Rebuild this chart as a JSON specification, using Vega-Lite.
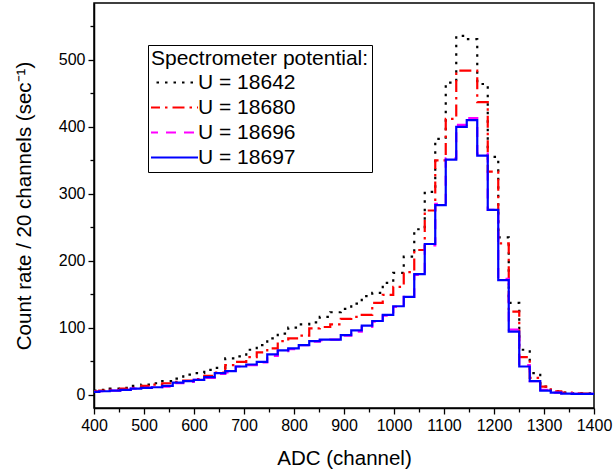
{
  "$schema": "https://vega.github.io/schema/vega-lite/v6.json",
  "width": 500,
  "height": 405,
  "autosize": {"type": "none"},
  "padding": {"left": 94, "top": 3, "right": 21, "bottom": 64},
  "background": "white",
  "config": {
    "font": "Liberation Sans",
    "view": {"stroke": "black", "strokeWidth": 1.5},
    "axis": {"domainColor": "black", "domainWidth": 1.5, "tickColor": "black", "tickWidth": 1.3, "labelColor": "black", "titleColor": "black", "grid": false, "labelFont": "Liberation Sans", "titleFont": "Liberation Sans", "titleFontWeight": "normal"}
  },
  "data": {"values": [
    {"s":"U = 18642","x":400,"y":6},{"s":"U = 18642","x":421,"y":7},{"s":"U = 18642","x":442,"y":9},{"s":"U = 18642","x":463,"y":10},{"s":"U = 18642","x":484,"y":13},{"s":"U = 18642","x":505,"y":15},{"s":"U = 18642","x":526,"y":17},{"s":"U = 18642","x":547,"y":20},{"s":"U = 18642","x":568,"y":24},{"s":"U = 18642","x":589,"y":30},{"s":"U = 18642","x":610,"y":32},{"s":"U = 18642","x":631,"y":37},{"s":"U = 18642","x":652,"y":40},{"s":"U = 18642","x":673,"y":54},{"s":"U = 18642","x":694,"y":57},{"s":"U = 18642","x":715,"y":67},{"s":"U = 18642","x":736,"y":74},{"s":"U = 18642","x":757,"y":84},{"s":"U = 18642","x":778,"y":91},{"s":"U = 18642","x":799,"y":100},{"s":"U = 18642","x":820,"y":105},{"s":"U = 18642","x":841,"y":108},{"s":"U = 18642","x":862,"y":116},{"s":"U = 18642","x":883,"y":123},{"s":"U = 18642","x":904,"y":128},{"s":"U = 18642","x":925,"y":136},{"s":"U = 18642","x":946,"y":147},{"s":"U = 18642","x":967,"y":152},{"s":"U = 18642","x":988,"y":167},{"s":"U = 18642","x":1009,"y":182},{"s":"U = 18642","x":1030,"y":206},{"s":"U = 18642","x":1051,"y":247},{"s":"U = 18642","x":1072,"y":303},{"s":"U = 18642","x":1093,"y":382},{"s":"U = 18642","x":1114,"y":466},{"s":"U = 18642","x":1135,"y":536},{"s":"U = 18642","x":1156,"y":531},{"s":"U = 18642","x":1177,"y":464},{"s":"U = 18642","x":1198,"y":355},{"s":"U = 18642","x":1219,"y":235},{"s":"U = 18642","x":1240,"y":137},{"s":"U = 18642","x":1261,"y":67},{"s":"U = 18642","x":1282,"y":32},{"s":"U = 18642","x":1303,"y":12},{"s":"U = 18642","x":1324,"y":5},{"s":"U = 18642","x":1345,"y":3},{"s":"U = 18642","x":1366,"y":2},{"s":"U = 18642","x":1387,"y":2},{"s":"U = 18642","x":1408,"y":1},
    {"s":"U = 18680","x":400,"y":5},{"s":"U = 18680","x":421,"y":6},{"s":"U = 18680","x":442,"y":7},{"s":"U = 18680","x":463,"y":9},{"s":"U = 18680","x":484,"y":10},{"s":"U = 18680","x":505,"y":13},{"s":"U = 18680","x":526,"y":15},{"s":"U = 18680","x":547,"y":17},{"s":"U = 18680","x":568,"y":19},{"s":"U = 18680","x":589,"y":21},{"s":"U = 18680","x":610,"y":23},{"s":"U = 18680","x":631,"y":28},{"s":"U = 18680","x":652,"y":33},{"s":"U = 18680","x":673,"y":44},{"s":"U = 18680","x":694,"y":49},{"s":"U = 18680","x":715,"y":56},{"s":"U = 18680","x":736,"y":63},{"s":"U = 18680","x":757,"y":69},{"s":"U = 18680","x":778,"y":80},{"s":"U = 18680","x":799,"y":84},{"s":"U = 18680","x":820,"y":88},{"s":"U = 18680","x":841,"y":99},{"s":"U = 18680","x":862,"y":101},{"s":"U = 18680","x":883,"y":105},{"s":"U = 18680","x":904,"y":113},{"s":"U = 18680","x":925,"y":116},{"s":"U = 18680","x":946,"y":119},{"s":"U = 18680","x":967,"y":137},{"s":"U = 18680","x":988,"y":149},{"s":"U = 18680","x":1009,"y":161},{"s":"U = 18680","x":1030,"y":183},{"s":"U = 18680","x":1051,"y":216},{"s":"U = 18680","x":1072,"y":275},{"s":"U = 18680","x":1093,"y":350},{"s":"U = 18680","x":1114,"y":412},{"s":"U = 18680","x":1135,"y":484},{"s":"U = 18680","x":1156,"y":484},{"s":"U = 18680","x":1177,"y":437},{"s":"U = 18680","x":1198,"y":333},{"s":"U = 18680","x":1219,"y":226},{"s":"U = 18680","x":1240,"y":124},{"s":"U = 18680","x":1261,"y":56},{"s":"U = 18680","x":1282,"y":25},{"s":"U = 18680","x":1303,"y":12},{"s":"U = 18680","x":1324,"y":5},{"s":"U = 18680","x":1345,"y":3},{"s":"U = 18680","x":1366,"y":2},{"s":"U = 18680","x":1387,"y":1.5},{"s":"U = 18680","x":1408,"y":1},
    {"s":"U = 18696","x":400,"y":4},{"s":"U = 18696","x":421,"y":5},{"s":"U = 18696","x":442,"y":6},{"s":"U = 18696","x":463,"y":7},{"s":"U = 18696","x":484,"y":9},{"s":"U = 18696","x":505,"y":10},{"s":"U = 18696","x":526,"y":11},{"s":"U = 18696","x":547,"y":12},{"s":"U = 18696","x":568,"y":17},{"s":"U = 18696","x":589,"y":19},{"s":"U = 18696","x":610,"y":22},{"s":"U = 18696","x":631,"y":25},{"s":"U = 18696","x":652,"y":31},{"s":"U = 18696","x":673,"y":33},{"s":"U = 18696","x":694,"y":42},{"s":"U = 18696","x":715,"y":44},{"s":"U = 18696","x":736,"y":48},{"s":"U = 18696","x":757,"y":58},{"s":"U = 18696","x":778,"y":65},{"s":"U = 18696","x":799,"y":68},{"s":"U = 18696","x":820,"y":74},{"s":"U = 18696","x":841,"y":79},{"s":"U = 18696","x":862,"y":81},{"s":"U = 18696","x":883,"y":82},{"s":"U = 18696","x":904,"y":88},{"s":"U = 18696","x":925,"y":94},{"s":"U = 18696","x":946,"y":101},{"s":"U = 18696","x":967,"y":109},{"s":"U = 18696","x":988,"y":118},{"s":"U = 18696","x":1009,"y":131},{"s":"U = 18696","x":1030,"y":146},{"s":"U = 18696","x":1051,"y":179},{"s":"U = 18696","x":1072,"y":223},{"s":"U = 18696","x":1093,"y":285},{"s":"U = 18696","x":1114,"y":353},{"s":"U = 18696","x":1135,"y":403},{"s":"U = 18696","x":1156,"y":413},{"s":"U = 18696","x":1177,"y":360},{"s":"U = 18696","x":1198,"y":276},{"s":"U = 18696","x":1219,"y":173},{"s":"U = 18696","x":1240,"y":97},{"s":"U = 18696","x":1261,"y":44},{"s":"U = 18696","x":1282,"y":20},{"s":"U = 18696","x":1303,"y":7},{"s":"U = 18696","x":1324,"y":3},{"s":"U = 18696","x":1345,"y":2},{"s":"U = 18696","x":1366,"y":1},{"s":"U = 18696","x":1387,"y":1},{"s":"U = 18696","x":1408,"y":1},
    {"s":"U = 18697","x":400,"y":4},{"s":"U = 18697","x":421,"y":5},{"s":"U = 18697","x":442,"y":6},{"s":"U = 18697","x":463,"y":7},{"s":"U = 18697","x":484,"y":9},{"s":"U = 18697","x":505,"y":10},{"s":"U = 18697","x":526,"y":11},{"s":"U = 18697","x":547,"y":13},{"s":"U = 18697","x":568,"y":18},{"s":"U = 18697","x":589,"y":20},{"s":"U = 18697","x":610,"y":22},{"s":"U = 18697","x":631,"y":26},{"s":"U = 18697","x":652,"y":32},{"s":"U = 18697","x":673,"y":35},{"s":"U = 18697","x":694,"y":42},{"s":"U = 18697","x":715,"y":45},{"s":"U = 18697","x":736,"y":49},{"s":"U = 18697","x":757,"y":60},{"s":"U = 18697","x":778,"y":66},{"s":"U = 18697","x":799,"y":69},{"s":"U = 18697","x":820,"y":74},{"s":"U = 18697","x":841,"y":80},{"s":"U = 18697","x":862,"y":82},{"s":"U = 18697","x":883,"y":82},{"s":"U = 18697","x":904,"y":89},{"s":"U = 18697","x":925,"y":96},{"s":"U = 18697","x":946,"y":103},{"s":"U = 18697","x":967,"y":110},{"s":"U = 18697","x":988,"y":119},{"s":"U = 18697","x":1009,"y":132},{"s":"U = 18697","x":1030,"y":146},{"s":"U = 18697","x":1051,"y":180},{"s":"U = 18697","x":1072,"y":225},{"s":"U = 18697","x":1093,"y":283},{"s":"U = 18697","x":1114,"y":351},{"s":"U = 18697","x":1135,"y":400},{"s":"U = 18697","x":1156,"y":410},{"s":"U = 18697","x":1177,"y":357},{"s":"U = 18697","x":1198,"y":276},{"s":"U = 18697","x":1219,"y":171},{"s":"U = 18697","x":1240,"y":94},{"s":"U = 18697","x":1261,"y":42},{"s":"U = 18697","x":1282,"y":20},{"s":"U = 18697","x":1303,"y":6},{"s":"U = 18697","x":1324,"y":3},{"s":"U = 18697","x":1345,"y":1.5},{"s":"U = 18697","x":1366,"y":1},{"s":"U = 18697","x":1387,"y":1},{"s":"U = 18697","x":1408,"y":1}
  ]},
  "mark": {"type": "line", "interpolate": "step", "clip": true, "strokeWidth": 2.2},
  "encoding": {
    "x": {"field": "x", "type": "quantitative", "scale": {"domain": [400, 1400], "nice": false, "zero": false},
      "axis": {"title": "ADC (channel)", "format": "d", "values": [400,450,500,550,600,650,700,750,800,850,900,950,1000,1050,1100,1150,1200,1250,1300,1350,1400],
        "labelExpr": "datum.value % 100 == 0 ? datum.label : ''", "labelFontSize": 16, "titleFontSize": 20.5, "titlePadding": 15,
        "tickSize": {"condition": {"test": "datum.value % 100 == 0", "value": 6}, "value": 4}, "labelPadding": 3, "labelFlush": false, "labelOverlap": false}},
    "y": {"field": "y", "type": "quantitative", "scale": {"domain": [-20, 585], "nice": false, "zero": false},
      "axis": {"title": "Count rate / 20 channels (sec⁻¹)", "format": "d", "values": [0,50,100,150,200,250,300,350,400,450,500,550],
        "labelExpr": "datum.value % 100 == 0 ? datum.label : ''", "labelFontSize": 16, "titleFontSize": 20.5, "titlePadding": 24,
        "tickSize": {"condition": {"test": "datum.value % 100 == 0", "value": 6}, "value": 4}, "labelPadding": 3, "labelOverlap": false}},
    "color": {"field": "s", "type": "nominal", "scale": {"domain": ["U = 18642","U = 18680","U = 18696","U = 18697"], "range": ["#000000","#FF0000","#FF00FF","#0000FF"]},
      "legend": {"title": "Spectrometer potential:", "titleLimit": 400, "labelLimit": 300, "orient": "none", "legendX": 54, "legendY": 42, "symbolType": "stroke", "symbolSize": 2500, "symbolStrokeWidth": 2, "symbolOffset": -4, "labelFontSize": 21, "titleFontSize": 21, "titleFontWeight": "normal", "titleColor": "black", "labelColor": "black", "strokeColor": "black", "fillColor": "white", "padding": 3, "labelOffset": -1, "titlePadding": 2, "rowPadding": 2, "clipHeight": 23}},
    "strokeDash": {"field": "s", "type": "nominal", "scale": {"domain": ["U = 18642","U = 18680","U = 18696","U = 18697"], "range": [[2.5,6],[12,5,2.5,5],[10,8],[1,0]]},
      "legend": {"title": "Spectrometer potential:", "titleLimit": 400, "labelLimit": 300, "orient": "none", "legendX": 54, "legendY": 42, "symbolType": "stroke", "symbolSize": 2500, "symbolStrokeWidth": 2, "symbolOffset": -4, "labelFontSize": 21, "titleFontSize": 21, "titleFontWeight": "normal", "strokeColor": "black", "fillColor": "white", "padding": 3, "labelOffset": -1, "titlePadding": 2, "rowPadding": 2, "clipHeight": 23}}
  }
}
